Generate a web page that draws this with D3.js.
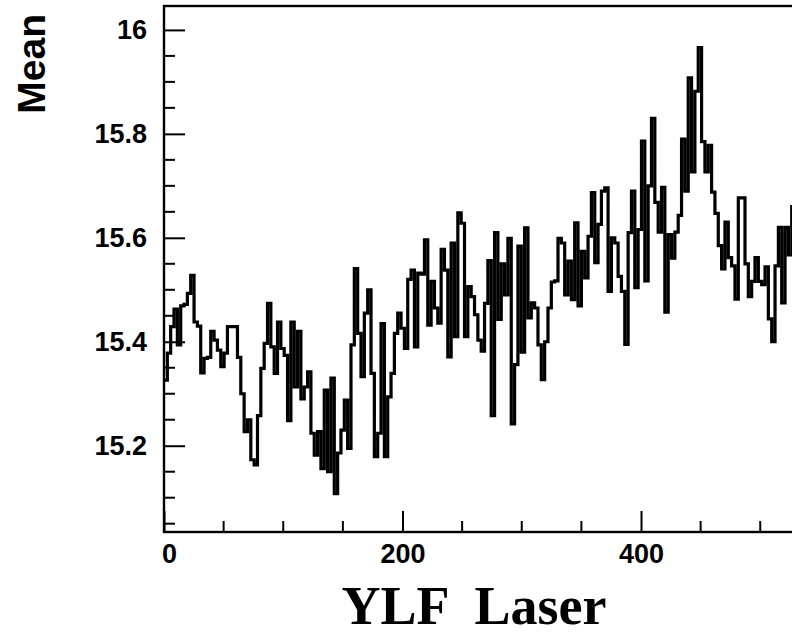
<!DOCTYPE html>
<html>
<head>
<meta charset="utf-8">
<script src="https://cdn.jsdelivr.net/npm/d3@7"></script>
<style>
  html, body { margin: 0; padding: 0; background: #fff; overflow: hidden; }
  svg { display: block; }
</style>
</head>
<body>
<div id="chart"></div>
<script>
// mean per bin, YLF laser run, 2.8 units per bin
const binWidth = 2.8;
const meanValues = [
  15.326, 15.378, 15.429, 15.463, 15.394, 15.469, 15.472, 15.493, 15.528, 15.438,
  15.430, 15.340, 15.368, 15.370, 15.420, 15.403, 15.384, 15.352, 15.378, 15.429,
  15.429, 15.429, 15.370, 15.300, 15.227, 15.250, 15.173, 15.163, 15.258, 15.349,
  15.397, 15.474, 15.390, 15.339, 15.438, 15.387, 15.374, 15.248, 15.438, 15.313,
  15.420, 15.290, 15.313, 15.342, 15.224, 15.182, 15.227, 15.156, 15.307, 15.150,
  15.330, 15.108, 15.186, 15.230, 15.288, 15.195, 15.394, 15.541, 15.416, 15.333,
  15.455, 15.500, 15.339, 15.179, 15.224, 15.435, 15.179, 15.294, 15.339, 15.416,
  15.455, 15.426, 15.387, 15.520, 15.538, 15.390, 15.532, 15.530, 15.596, 15.432,
  15.516, 15.465, 15.436, 15.578, 15.538, 15.371, 15.590, 15.410, 15.648, 15.628,
  15.410, 15.506, 15.487, 15.452, 15.403, 15.382, 15.474, 15.556, 15.258, 15.610,
  15.443, 15.550, 15.490, 15.599, 15.242, 15.356, 15.584, 15.380, 15.619, 15.446,
  15.475, 15.465, 15.394, 15.327, 15.400, 15.465, 15.515, 15.517, 15.599, 15.590,
  15.490, 15.555, 15.481, 15.629, 15.469, 15.574, 15.523, 15.603, 15.687, 15.552,
  15.626, 15.690, 15.696, 15.497, 15.600, 15.590, 15.526, 15.497, 15.395, 15.610,
  15.690, 15.504, 15.616, 15.786, 15.517, 15.700, 15.830, 15.668, 15.611, 15.697,
  15.457, 15.606, 15.561, 15.611, 15.643, 15.790, 15.690, 15.908, 15.727, 15.882,
  15.966, 15.785, 15.727, 15.778, 15.688, 15.647, 15.585, 15.540, 15.630, 15.562,
  15.546, 15.482, 15.677, 15.677, 15.550, 15.487, 15.516, 15.562, 15.516, 15.510,
  15.544, 15.444, 15.400, 15.546, 15.620, 15.475, 15.620, 15.567, 15.660
];

const xMajorTicks = [0, 200, 400];
const xMinorTicks = [50, 100, 150, 250, 300, 350, 450, 500, 550];
const yMajorTicks = [15.2, 15.4, 15.6, 15.8, 16];
const yMinorTicks = [15.05, 15.1, 15.15, 15.25, 15.3, 15.35, 15.45, 15.5, 15.55,
                     15.65, 15.7, 15.75, 15.85, 15.9, 15.95];
const xTitle = 'YLF  Laser';
const yTitle = 'Mean';

const width = 792, height = 638;
const frame = { left: 164, top: 6, bottom: 532 };

const x = d3.scaleLinear().domain([0, 560]).range([frame.left, frame.left + 560 * 1.1925]);
const y = d3.scaleLinear().domain([15.034, 16.046]).range([frame.bottom, frame.top]);

const svg = d3.select('#chart')
  .append('svg')
  .attr('width', width)
  .attr('height', height)
  .attr('viewBox', [0, 0, width, height]);

// step line of the histogram
const points = meanValues.map((v, i) => [i * binWidth, v]);
points.push([meanValues.length * binWidth, meanValues[meanValues.length - 1]]);

const line = d3.line()
  .x(d => x(d[0]))
  .y(d => y(d[1]))
  .curve(d3.curveStepAfter);

svg.append('path')
  .datum(points)
  .attr('fill', 'none')
  .attr('stroke', '#000')
  .attr('stroke-width', 3.2)
  .attr('stroke-linejoin', 'miter')
  .attr('d', line);

// frame
svg.append('rect')
  .attr('x', x(0))
  .attr('y', frame.top)
  .attr('width', x(560) - x(0))
  .attr('height', frame.bottom - frame.top)
  .attr('fill', 'none')
  .attr('stroke', '#000')
  .attr('stroke-width', 2.4);

// x axis, ticks point up into the frame
const xAxis = d3.axisBottom(x)
  .tickValues(xMajorTicks)
  .tickSize(-21)
  .tickPadding(12)
  .tickFormat(d3.format('d'));

const gx = svg.append('g')
  .attr('transform', `translate(0,${frame.bottom})`)
  .call(xAxis);

gx.select('.domain').remove();
gx.selectAll('.tick line').attr('stroke', '#000').attr('stroke-width', 2);
gx.selectAll('.tick text')
  .attr('fill', '#000')
  .attr('dx', d => d === 0 ? 5 : 0)
  .attr('dy', '0.71em')
  .style('font-family', '"Liberation Sans", Arial, Helvetica, sans-serif')
  .style('font-weight', 'bold')
  .style('font-size', '27px');

svg.append('g')
  .selectAll('line')
  .data(xMinorTicks)
  .join('line')
  .attr('x1', d => x(d))
  .attr('x2', d => x(d))
  .attr('y1', frame.bottom)
  .attr('y2', frame.bottom - 11)
  .attr('stroke', '#000')
  .attr('stroke-width', 2);

// y axis, ticks point right into the frame
const yAxis = d3.axisLeft(y)
  .tickValues(yMajorTicks)
  .tickSize(-21)
  .tickPadding(17)
  .tickFormat(d => d3.format('')(+d.toFixed(1)));

const gy = svg.append('g')
  .attr('transform', `translate(${frame.left},0)`)
  .call(yAxis);

gy.select('.domain').remove();
gy.selectAll('.tick line').attr('stroke', '#000').attr('stroke-width', 2);
gy.selectAll('.tick text')
  .attr('fill', '#000')
  .style('font-family', '"Liberation Sans", Arial, Helvetica, sans-serif')
  .style('font-weight', 'bold')
  .style('font-size', '27px');

svg.append('g')
  .selectAll('line')
  .data(yMinorTicks)
  .join('line')
  .attr('x1', frame.left)
  .attr('x2', frame.left + 11)
  .attr('y1', d => y(d))
  .attr('y2', d => y(d))
  .attr('stroke', '#000')
  .attr('stroke-width', 2);

// axis titles
svg.append('text')
  .attr('transform', 'translate(45,14) rotate(-90)')
  .attr('text-anchor', 'end')
  .style('font-family', '"Liberation Sans", Arial, Helvetica, sans-serif')
  .style('font-weight', 'bold')
  .style('font-size', '39px')
  .text(yTitle);

svg.append('text')
  .attr('x', 474)
  .attr('y', 624)
  .attr('text-anchor', 'middle')
  .style('font-family', '"Liberation Serif", "Times New Roman", Times, serif')
  .style('font-weight', 'bold')
  .style('font-size', '54px')
  .style('white-space', 'pre')
  .text(xTitle);
</script>
</body>
</html>
